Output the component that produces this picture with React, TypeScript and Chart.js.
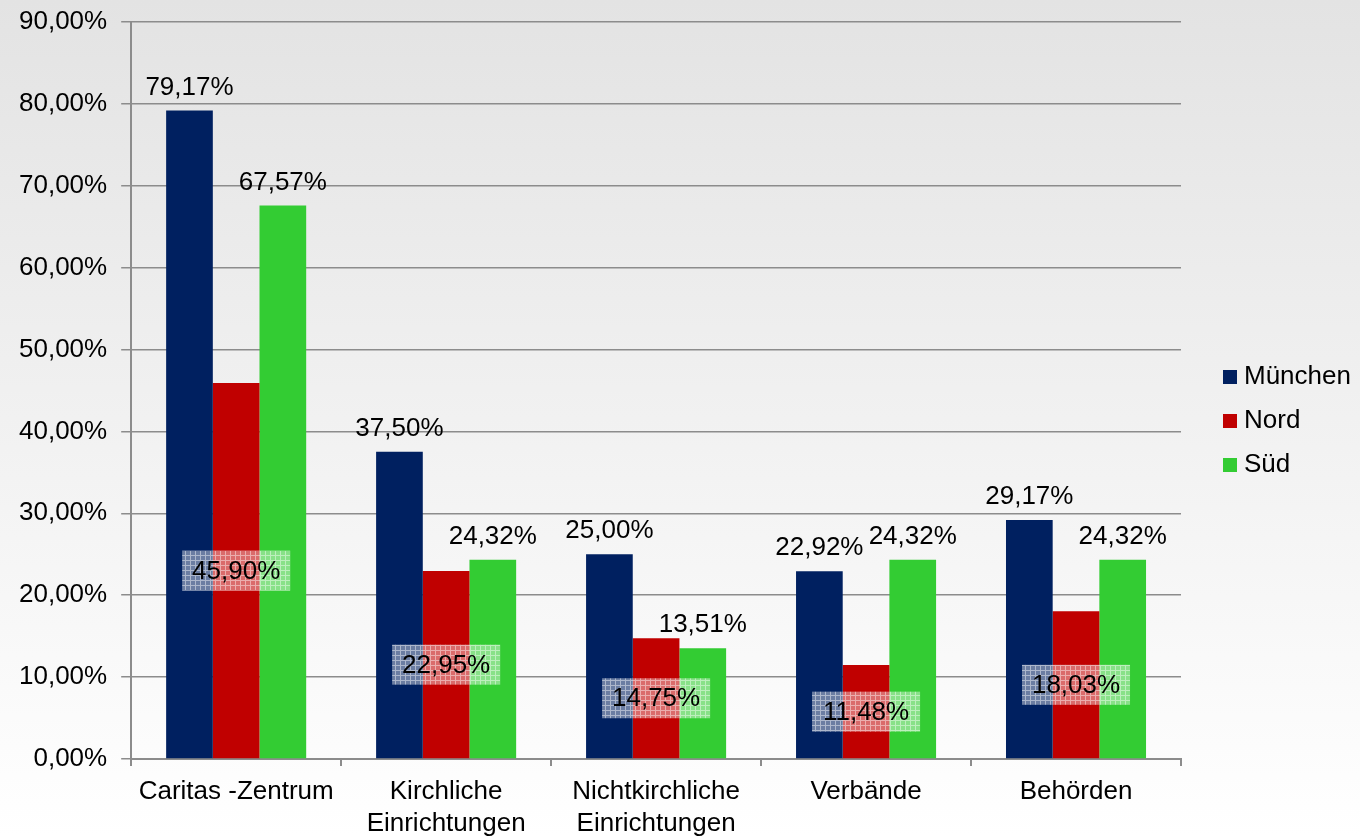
import React, { useEffect, useRef } from "react";
import { Chart, registerables } from "chart.js";

Chart.register(...registerables);

const categories: (string | string[])[] = [
  "Caritas -Zentrum",
  ["Kirchliche", "Einrichtungen"],
  ["Nichtkirchliche", "Einrichtungen"],
  "Verbände",
  "Behörden",
];
const seriesNames = ["München", "Nord", "Süd"];
const muenchen = [79.17, 37.5, 25.0, 22.92, 29.17];
const nord = [45.9, 22.95, 14.75, 11.48, 18.03];
const sued = [67.57, 24.32, 13.51, 24.32, 24.32];
const colors = ["#002060", "#C00000", "#33CC33"];
const yMax = 90;
const yStep = 10;

const FONT = "'Liberation Sans', Arial, sans-serif";
const FS = 26;
const fmt = (v: number) => v.toFixed(2).replace(".", ",") + "%";

function makePattern(ctx: CanvasRenderingContext2D) {
  const c = document.createElement("canvas");
  c.width = 5;
  c.height = 5;
  const p = c.getContext("2d")!;
  p.fillStyle = "rgba(255,255,255,0.42)";
  p.fillRect(0, 0, 5, 5);
  p.fillStyle = "rgba(255,255,255,0.45)";
  p.fillRect(0, 0, 5, 1);
  p.fillRect(0, 1, 1, 4);
  return ctx.createPattern(c, "repeat");
}

const bgPlugin = {
  id: "bg",
  beforeDraw(chart: any) {
    const { ctx, width, height } = chart;
    const g = ctx.createLinearGradient(0, 0, 0, height);
    g.addColorStop(0, "#e3e3e3");
    g.addColorStop(1, "#ffffff");
    ctx.save();
    ctx.fillStyle = g;
    ctx.fillRect(0, 0, width, height);
    ctx.restore();
  },
};

const labelPlugin = {
  id: "vlabels",
  afterDatasetsDraw(chart: any) {
    const { ctx } = chart;
    ctx.save();
    ctx.font = `${FS}px ${FONT}`;
    ctx.fillStyle = "#000";
    ctx.textAlign = "center";
    const pat = makePattern(ctx);
    chart.data.datasets.forEach((ds: any, di: number) => {
      const meta = chart.getDatasetMeta(di);
      meta.data.forEach((bar: any, i: number) => {
        const txt = fmt(ds.data[i]);
        if (di === 1) {
          const cy = (bar.y + bar.base) / 2;
          const w = 108;
          const h = 40;
          ctx.fillStyle = pat || "rgba(255,255,255,0.45)";
          ctx.fillRect(bar.x - w / 2, cy - h / 2, w, h);
          ctx.fillStyle = "#000";
          ctx.textBaseline = "middle";
          ctx.fillText(txt, bar.x, cy + 1);
        } else {
          ctx.textBaseline = "alphabetic";
          ctx.fillText(txt, bar.x, bar.y - 16);
        }
      });
    });
    ctx.restore();
  },
};

const legendPlugin = {
  id: "customLegend",
  afterDraw(chart: any) {
    const { ctx } = chart;
    ctx.save();
    ctx.font = `${FS}px ${FONT}`;
    ctx.textBaseline = "middle";
    ctx.textAlign = "left";
    const x = 1223;
    const y0 = 377;
    chart.data.datasets.forEach((ds: any, i: number) => {
      const y = y0 + i * 44;
      ctx.fillStyle = ds.backgroundColor;
      ctx.fillRect(x, y - 7, 14, 14);
      ctx.fillStyle = "#000";
      ctx.fillText(ds.label, x + 21, y);
    });
    ctx.restore();
  },
};

export default function App() {
  const ref = useRef<HTMLCanvasElement>(null);
  useEffect(() => {
    document.body.style.margin = "0";
    const chart = new Chart(ref.current!, {
      type: "bar",
      data: {
        labels: categories,
        datasets: [muenchen, nord, sued].map((d, i) => ({
          label: seriesNames[i],
          data: d,
          backgroundColor: colors[i],
          barPercentage: 1,
          categoryPercentage: 0.667,
        })),
      },
      options: {
        animation: false,
        responsive: true,
        maintainAspectRatio: false,
        layout: { padding: { left: 5, top: 0, right: 179, bottom: -14 } },
        plugins: { legend: { display: false }, tooltip: { enabled: false } },
        scales: {
          x: {
            offset: true,
            grid: {
              offset: true,
              drawOnChartArea: false,
              drawTicks: true,
              tickLength: 7,
              color: "#8c8c8c",
              lineWidth: 2,
            },
            border: { color: "#8c8c8c", width: 2 },
            ticks: {
              color: "#000",
              padding: 10,
              maxRotation: 0,
              autoSkip: false,
              font: { family: FONT, size: FS, lineHeight: 1.23 },
            },
          },
          y: {
            min: 0,
            max: yMax,
            grid: { color: "#8c8c8c", lineWidth: 1.5, tickLength: 10 },
            border: { color: "#8c8c8c", width: 2 },
            ticks: {
              stepSize: yStep,
              color: "#000",
              padding: 14,
              font: { family: FONT, size: FS, lineHeight: 0.6 },
              callback: (v: any) => fmt(Number(v)),
            },
          },
        },
      },
      plugins: [bgPlugin, labelPlugin, legendPlugin],
    });
    return () => chart.destroy();
  }, []);
  return (
    <div style={{ position: "relative", width: 1360, height: 836 }}>
      <canvas ref={ref} />
    </div>
  );
}
